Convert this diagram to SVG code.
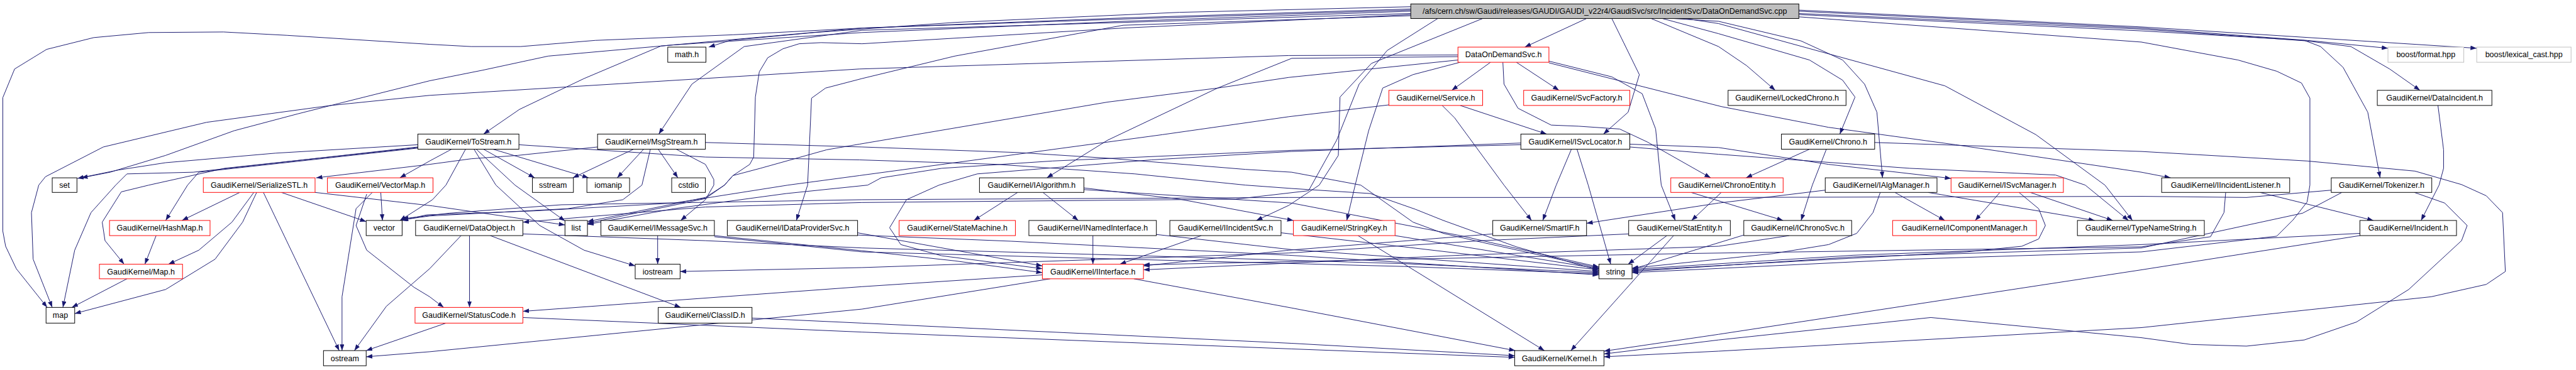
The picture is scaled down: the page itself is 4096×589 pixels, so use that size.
<svg xmlns="http://www.w3.org/2000/svg" width="4096" height="589" viewBox="0 0 4096 589">
<style>
.n rect{fill:#fff;stroke:#000;stroke-width:1.1}
.r rect{stroke:#ff0000}
.g rect{stroke:#bfbfbf}
.m rect{fill:#bfbfbf}
text{font-family:"Liberation Sans",Arial,sans-serif;font-size:14px;text-anchor:middle;fill:#000}
#edges path{fill:none;stroke:#191970;stroke-width:1.1;stroke-linejoin:round;marker-end:url(#a)}
</style>
<defs>
<marker id="a" viewBox="0 0 11 8" refX="11" refY="4" markerWidth="11" markerHeight="8" orient="auto" markerUnits="userSpaceOnUse"><path d="M0,0L11,4L0,8z" fill="#191970"/></marker>
</defs>
<rect width="4096" height="589" fill="#fff"/>
<g transform="scale(0.893)">
<g id="edges">
<path d="M2512,12 L2100,22 L1700,40 L1450,58 L1300,72 L1262,84"/>
<path d="M2512,16 L2000,32 L1535,50 L1305,62 L1060,72 L927,83 L839,83 L765,79 L511,63 L398,57 L265,58 L167,67 L83,88 L26,123 L5,174 L5,412 L10,439 L29,479 L84,548"/>
<path d="M2512,20 L2000,38 L1535,58 L1200,80 L976,100 L860,125 L765,144 L609,183 L530,203 L417,233 L295,277 L196,307 L145,317"/>
<path d="M2512,18 L2000,34 L1535,50 L1177,82 L1040,140 L925,195 L861,239"/>
<path d="M2512,24 L2000,40 L1535,54 L1325,83 L1232,150 L1173,239"/>
<path d="M2825,33 L2715,84"/>
<path d="M3203,20 L3813,50 L4108,72 L4252,86"/>
<path d="M3203,18 L3813,48 L4410,86"/>
<path d="M3203,24 L3813,52 L4108,73 L4186,83 L4255,123 L4309,161"/>
<path d="M3203,26 L3813,55 L4103,72 L4132,83 L4172,120 L4216,200 L4238,317"/>
<path d="M3000,33 L3060,42 L3463,153 L3625,240 L3748,330 L3797,393"/>
<path d="M2980,33 L3060,38 L3207,73 L3281,107 L3320,150 L3342,200 L3352,317"/>
<path d="M2960,33 L3060,60 L3222,107 L3281,143 L3303,173 L3276,239"/>
<path d="M2940,33 L3060,83 L3110,117 L3161,161"/>
<path d="M2870,33 L2919,133 L2899,200 L2855,239"/>
<path d="M3203,30 L3813,75 L3985,107 L4054,127 L4098,148 L4113,175 L4113,330 L4108,360 L4083,392 L4054,421 L3813,449 L3400,462 L2906,486"/>
<path d="M2512,28 L2000,45 L1700,100 L1535,140 L1470,157 L1445,175 L1438,330 L1418,393"/>
<path d="M2640,33 L2442,113 L2386,173 L2383,277 L2349,330 L2295,366 L2237,393"/>
<path d="M2560,33 L2470,90 L2420,150 L2380,250 L2330,340 L2200,355 L1535,361 L1256,369 L931,396"/>
<path d="M2512,26 L2000,50 L1535,78 L1462,76 L1423,78 L1394,87 L1367,103 L1352,128 L1345,173 L1342,280 L1335,293 L1305,313 L1290,330 L1256,352 L1046,395"/>
<path d="M2654,111 L2585,161"/>
<path d="M2700,111 L2776,161"/>
<path d="M2596,98 L2295,99 L1530,123 L765,170 L589,188 L368,218 L184,262 L81,315 L69,330 L56,379 L59,462 L93,548"/>
<path d="M2596,101 L2300,104 L2168,157 L1972,250 L1864,317"/>
<path d="M2596,107 L2295,138 L2168,157 L1972,182 L1825,207 L1530,257 L1472,267 L1354,300 L1305,313 L1290,330 L1256,354 L1046,398"/>
<path d="M2600,111 L2516,133 L2462,157 L2437,233 L2413,330 L2398,393"/>
<path d="M2676,111 L2678,150 L2703,193 L2762,223 L2811,225 L2884,230 L2933,253 L3046,317"/>
<path d="M2758,109 L2870,137 L2924,167 L2948,230 L2958,330 L2983,393"/>
<path d="M2758,112 L3065,190 L3256,227 L3482,258 L3813,307 L3865,317"/>
<path d="M2600,188 L2754,239"/>
<path d="M2568,188 L2590,210 L2678,330 L2727,393"/>
<path d="M2473,187 L2295,208 L2070,240 L1530,313 L1403,330 L1200,362 L950,376 L760,383 L714,393"/>
<path d="M2798,266 L2771,330 L2747,393"/>
<path d="M2808,266 L2828,330 L2868,471"/>
<path d="M2902,257 L3060,263 L3256,293 L3474,318"/>
<path d="M2902,262 L3060,275 L3400,300 L3660,312 L3713,330 L3790,393"/>
<path d="M2708,255 L2300,270 L2050,285 L1740,310 L1672,330 L1614,356 L1584,406 L1604,436 L1677,456 L1856,479"/>
<path d="M2708,258 L2300,268 L1874,287 L1677,300 L1569,317 L1545,330 L1400,345 L1200,372 L1046,400"/>
<path d="M1064,262 L922,277 L839,283 L765,293 L563,317"/>
<path d="M1128,266 L1020,317"/>
<path d="M1146,266 L1099,317"/>
<path d="M1172,266 L1207,317"/>
<path d="M1204,266 L1256,293 L1271,320 L1271,330 L1256,356 L1212,393"/>
<path d="M1158,266 L1143,330 L1109,356 L1011,372 L765,385 L716,392"/>
<path d="M1256,254 L1535,262 L1815,272 L1972,282 L2218,302 L2300,307 L2423,330 L2516,396 L2570,416 L2639,432 L2847,478"/>
<path d="M744,258 L491,273 L295,290 L211,303 L138,318"/>
<path d="M744,262 L344,307 L226,310 L206,330 L162,379 L133,446 L112,548"/>
<path d="M744,263 L400,300 L265,330 L216,342 L182,396 L187,429 L221,471"/>
<path d="M744,264 L354,307 L334,330 L295,393"/>
<path d="M804,266 L765,287 L712,317"/>
<path d="M861,266 L952,317"/>
<path d="M878,266 L1048,317"/>
<path d="M829,266 L794,330 L770,356 L712,393"/>
<path d="M844,266 L883,330 L961,402 L1040,446 L1131,474"/>
<path d="M848,266 L917,330 L1006,394"/>
<path d="M924,258 L1256,280 L1530,285 L1776,293 L2021,310 L2218,330 L2300,336 L2440,345 L2520,373 L2570,393 L2700,440 L2847,482"/>
<path d="M427,343 L324,393"/>
<path d="M452,343 L413,396 L354,446 L300,471"/>
<path d="M457,343 L432,396 L383,462 L295,516 L133,559"/>
<path d="M469,343 L604,625"/>
<path d="M501,343 L652,395"/>
<path d="M561,343 L770,367 L1006,401"/>
<path d="M678,343 L681,393"/>
<path d="M663,343 L634,372 L609,529 L609,625"/>
<path d="M653,346 L634,402 L653,446 L737,512 L765,529 L790,548"/>
<path d="M278,420 L258,471"/>
<path d="M226,497 L128,548"/>
<path d="M821,420 L765,479 L688,546 L631,625"/>
<path d="M836,420 L836,548"/>
<path d="M873,420 L1212,548"/>
<path d="M931,417 L1256,429 L1535,442 L2000,455 L2500,470 L2847,486"/>
<path d="M1171,420 L1171,471"/>
<path d="M1272,420 L1535,447 L1700,465 L1856,486"/>
<path d="M1272,422 L1535,449 L2000,462 L2500,475 L2847,488"/>
<path d="M1527,415 L1856,474"/>
<path d="M1527,419 L1800,430 L2295,455 L2847,490"/>
<path d="M1812,343 L1734,393"/>
<path d="M1857,343 L1920,393"/>
<path d="M1930,335 L2100,355 L2303,393"/>
<path d="M1930,338 L2300,362 L2600,420 L2847,476"/>
<path d="M1946,420 L1946,471"/>
<path d="M2059,418 L2300,445 L2847,484"/>
<path d="M2139,420 L1994,471"/>
<path d="M2281,415 L2500,440 L2847,481"/>
<path d="M2418,420 L2750,625"/>
<path d="M2484,420 L2847,479"/>
<path d="M2658,417 L2295,446 L2036,474"/>
<path d="M2968,420 L2899,471"/>
<path d="M2980,420 L2797,625"/>
<path d="M2900,417 L2639,429 L2295,451 L1535,477 L1211,484"/>
<path d="M3186,420 L3060,439 L2600,455 L2036,481"/>
<path d="M3105,419 L2906,480"/>
<path d="M3011,343 L3175,393"/>
<path d="M3065,343 L3012,393"/>
<path d="M3222,266 L3109,317"/>
<path d="M3252,266 L3227,330 L3207,393"/>
<path d="M3338,254 L3813,270 L4108,287 L4300,305 L4383,329 L4427,349 L4456,379 L4461,484 L4427,507 L4329,529 L3813,584 L3060,626 L2856,636"/>
<path d="M4299,343 L4353,362 L4393,402 L4383,429 L4289,516 L4196,574 L4103,606 L4000,617 L3901,614 L3813,602 L3438,566 L3060,606 L2856,631"/>
<path d="M4151,339 L4000,352 L3813,350 L3060,352 L2295,352 L1535,356 L1000,365 L800,380 L716,390"/>
<path d="M4170,343 L4100,380 L3813,442 L3300,458 L2906,484"/>
<path d="M4202,420 L3813,481 L3060,596 L2856,626"/>
<path d="M4202,416 L3813,436 L3300,455 L2906,480"/>
<path d="M4024,343 L4226,393"/>
<path d="M3963,343 L3960,379 L3936,422 L3813,440 L3000,452 L2500,462 L2036,472"/>
<path d="M4341,188 L4351,267 L4351,300 L4343,330 L4311,393"/>
<path d="M3374,343 L3463,393"/>
<path d="M3433,343 L3730,393"/>
<path d="M3250,339 L3060,362 L2825,398"/>
<path d="M3348,343 L3335,379 L3306,416 L3256,436 L3158,452 L2906,478"/>
<path d="M3561,343 L3517,393"/>
<path d="M3615,343 L3762,393"/>
<path d="M3595,343 L3630,372 L3642,402 L3630,426 L3600,439 L3502,449 L2906,482"/>
<path d="M1339,567 L1535,576 L2300,612 L2697,634"/>
<path d="M931,566 L1535,592 L2300,622 L2697,637"/>
<path d="M794,576 L765,586 L652,625"/>
<path d="M1856,490 L1535,511 L931,555"/>
<path d="M1870,497 L1535,551 L765,627 L652,636"/>
<path d="M2019,497 L2300,549 L2698,625"/>
</g>
<g id="n_main" class="n m"><rect x="2512" y="7" width="691" height="26"/><text x="2857.5" y="25">/afs/cern.ch/sw/Gaudi/releases/GAUDI/GAUDI_v22r4/GaudiSvc/src/IncidentSvc/DataOnDemandSvc.cpp</text></g>
<g id="n_math" class="n"><rect x="1189" y="84" width="68" height="27"/><text x="1223" y="102">math.h</text></g>
<g id="n_dods" class="n r"><rect x="2596" y="84" width="162" height="27"/><text x="2677" y="102">DataOnDemandSvc.h</text></g>
<g id="n_bfmt" class="n g"><rect x="4252" y="84" width="135" height="27"/><text x="4319.5" y="102">boost/format.hpp</text></g>
<g id="n_blex" class="n g"><rect x="4410" y="84" width="168" height="27"/><text x="4494" y="102">boost/lexical_cast.hpp</text></g>
<g id="n_service" class="n r"><rect x="2473" y="161" width="167" height="27"/><text x="2556.5" y="179.5">GaudiKernel/Service.h</text></g>
<g id="n_svcfactory" class="n r"><rect x="2713" y="161" width="189" height="27"/><text x="2807.5" y="179.5">GaudiKernel/SvcFactory.h</text></g>
<g id="n_lockedchrono" class="n"><rect x="3077" y="161" width="210" height="27"/><text x="3182" y="179.5">GaudiKernel/LockedChrono.h</text></g>
<g id="n_dataincident" class="n"><rect x="4233" y="161" width="204" height="27"/><text x="4335" y="179.5">GaudiKernel/DataIncident.h</text></g>
<g id="n_tostream" class="n"><rect x="744" y="239" width="180" height="27"/><text x="834" y="257.5">GaudiKernel/ToStream.h</text></g>
<g id="n_msgstream" class="n"><rect x="1064" y="239" width="192" height="27"/><text x="1160" y="257.5">GaudiKernel/MsgStream.h</text></g>
<g id="n_isvclocator" class="n"><rect x="2708" y="239" width="194" height="27"/><text x="2805" y="257.5">GaudiKernel/ISvcLocator.h</text></g>
<g id="n_chrono" class="n"><rect x="3172" y="239" width="166" height="27"/><text x="3255" y="257.5">GaudiKernel/Chrono.h</text></g>
<g id="n_set" class="n"><rect x="93" y="317" width="44" height="26"/><text x="115" y="335">set</text></g>
<g id="n_serializestl" class="n r"><rect x="362" y="317" width="199" height="26"/><text x="461.5" y="335">GaudiKernel/SerializeSTL.h</text></g>
<g id="n_vectormap" class="n r"><rect x="583" y="317" width="188" height="26"/><text x="677" y="335">GaudiKernel/VectorMap.h</text></g>
<g id="n_sstream" class="n"><rect x="948" y="317" width="73" height="26"/><text x="984.5" y="335">sstream</text></g>
<g id="n_iomanip" class="n"><rect x="1045" y="317" width="76" height="26"/><text x="1083" y="335">iomanip</text></g>
<g id="n_cstdio" class="n"><rect x="1196" y="317" width="60" height="26"/><text x="1226" y="335">cstdio</text></g>
<g id="n_ialgorithm" class="n"><rect x="1744" y="317" width="186" height="26"/><text x="1837" y="335">GaudiKernel/IAlgorithm.h</text></g>
<g id="n_chronoentity" class="n r"><rect x="2975" y="317" width="200" height="26"/><text x="3075" y="335">GaudiKernel/ChronoEntity.h</text></g>
<g id="n_ialgmanager" class="n"><rect x="3250" y="317" width="199" height="26"/><text x="3349.5" y="335">GaudiKernel/IAlgManager.h</text></g>
<g id="n_isvcmanager" class="n r"><rect x="3474" y="317" width="200" height="26"/><text x="3574" y="335">GaudiKernel/ISvcManager.h</text></g>
<g id="n_iincidentlistener" class="n"><rect x="3849" y="317" width="228" height="26"/><text x="3963" y="335">GaudiKernel/IIncidentListener.h</text></g>
<g id="n_tokenizer" class="n"><rect x="4151" y="317" width="179" height="26"/><text x="4240.5" y="335">GaudiKernel/Tokenizer.h</text></g>
<g id="n_hashmap" class="n r"><rect x="195" y="393" width="179" height="27"/><text x="284.5" y="411.5">GaudiKernel/HashMap.h</text></g>
<g id="n_vector" class="n"><rect x="652" y="393" width="64" height="27"/><text x="684" y="411.5">vector</text></g>
<g id="n_dataobject" class="n"><rect x="740" y="393" width="191" height="27"/><text x="835.5" y="411.5">GaudiKernel/DataObject.h</text></g>
<g id="n_list" class="n"><rect x="1006" y="393" width="40" height="27"/><text x="1026" y="411.5">list</text></g>
<g id="n_imessagesvc" class="n"><rect x="1070" y="393" width="202" height="27"/><text x="1171" y="411.5">GaudiKernel/IMessageSvc.h</text></g>
<g id="n_idataprovidersvc" class="n"><rect x="1295" y="393" width="232" height="27"/><text x="1411" y="411.5">GaudiKernel/IDataProviderSvc.h</text></g>
<g id="n_statemachine" class="n r"><rect x="1601" y="393" width="207" height="27"/><text x="1704.5" y="411.5">GaudiKernel/StateMachine.h</text></g>
<g id="n_inamedinterface" class="n"><rect x="1832" y="393" width="227" height="27"/><text x="1945.5" y="411.5">GaudiKernel/INamedInterface.h</text></g>
<g id="n_iincidentsvc" class="n"><rect x="2083" y="393" width="198" height="27"/><text x="2182" y="411.5">GaudiKernel/IIncidentSvc.h</text></g>
<g id="n_stringkey" class="n r"><rect x="2303" y="393" width="181" height="27"/><text x="2393.5" y="411.5">GaudiKernel/StringKey.h</text></g>
<g id="n_smartif" class="n"><rect x="2658" y="393" width="167" height="27"/><text x="2741.5" y="411.5">GaudiKernel/SmartIF.h</text></g>
<g id="n_statentity" class="n"><rect x="2900" y="393" width="181" height="27"/><text x="2990.5" y="411.5">GaudiKernel/StatEntity.h</text></g>
<g id="n_ichronosvc" class="n"><rect x="3105" y="393" width="192" height="27"/><text x="3201" y="411.5">GaudiKernel/IChronoSvc.h</text></g>
<g id="n_icomponentmanager" class="n r"><rect x="3370" y="393" width="256" height="27"/><text x="3498" y="411.5">GaudiKernel/IComponentManager.h</text></g>
<g id="n_typenamestring" class="n"><rect x="3699" y="393" width="226" height="27"/><text x="3812" y="411.5">GaudiKernel/TypeNameString.h</text></g>
<g id="n_incident" class="n"><rect x="4202" y="393" width="172" height="27"/><text x="4288" y="411.5">GaudiKernel/Incident.h</text></g>
<g id="n_maph" class="n r"><rect x="177" y="471" width="148" height="26"/><text x="251" y="489">GaudiKernel/Map.h</text></g>
<g id="n_iostream" class="n"><rect x="1131" y="471" width="80" height="26"/><text x="1171" y="489">iostream</text></g>
<g id="n_iinterface" class="n r"><rect x="1856" y="471" width="180" height="26"/><text x="1946" y="489">GaudiKernel/IInterface.h</text></g>
<g id="n_string" class="n"><rect x="2847" y="471" width="59" height="26"/><text x="2876.5" y="489">string</text></g>
<g id="n_map" class="n"><rect x="82" y="548" width="51" height="28"/><text x="107.5" y="567">map</text></g>
<g id="n_statuscode" class="n r"><rect x="739" y="548" width="192" height="28"/><text x="835" y="567">GaudiKernel/StatusCode.h</text></g>
<g id="n_classid" class="n"><rect x="1172" y="548" width="167" height="28"/><text x="1255.5" y="567">GaudiKernel/ClassID.h</text></g>
<g id="n_ostream" class="n"><rect x="576" y="625" width="76" height="27"/><text x="614" y="643.5">ostream</text></g>
<g id="n_kernel" class="n"><rect x="2697" y="625" width="159" height="27"/><text x="2776.5" y="643.5">GaudiKernel/Kernel.h</text></g>
</g>
</svg>
